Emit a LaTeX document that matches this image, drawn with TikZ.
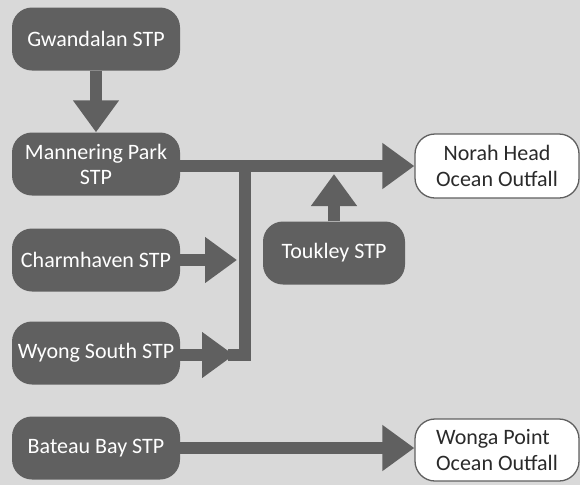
\documentclass[tikz,border=0pt]{standalone}
\usepackage{fontspec}
\setmainfont{Carlito}
\usetikzlibrary{arrows.meta}
\definecolor{bg}{HTML}{D9D9D9}
\definecolor{boxgray}{HTML}{606060}
\definecolor{textdark}{HTML}{2A2A2A}
\begin{document}
\begin{tikzpicture}[x=1pt,y=-1pt,
  stpbox/.style={fill=boxgray, rounded corners=20pt, minimum width=168pt, minimum height=63pt,
    text=white, font=\fontsize{22}{25}\selectfont, align=center, inner sep=0pt},
  outbox/.style={fill=white, draw=boxgray, line width=1.3pt, rounded corners=20pt,
    minimum width=164pt, minimum height=64pt, text=textdark,
    font=\fontsize{22}{26}\selectfont, inner sep=0pt},
  flow/.style={draw=boxgray, line width=12pt, -{Triangle[length=32pt,width=44pt]}},
  pipe/.style={draw=boxgray, line width=12pt, line join=miter}]
\fill[bg] (0,0) rectangle (580,485);
\useasboundingbox (0,0) rectangle (580,485);

\node[stpbox] (gw) at (96,39) {Gwandalan STP};
\node[stpbox] (mann) at (96,164) {Mannering Park\\STP};
\node[stpbox] (charm) at (96,260) {Charmhaven STP};
\node[stpbox] (wyong) at (96,353) {Wyong South STP};
\node[stpbox] (bat) at (96,448) {Bateau Bay STP};
\node[stpbox, minimum width=142pt] (touk) at (334,253) {Toukley STP};
\node[outbox, align=center] (norah) at (497,166) {Norah Head\\Ocean Outfall};
\node[outbox, align=left, minimum height=62pt] (wonga) at (497,450) {Wonga Point\\Ocean Outfall};

\coordinate (jtop) at (245,166);
\coordinate (jbot) at (228,355);
\coordinate (ctip) at (237,260);
\coordinate (wtip) at (234,355);
\coordinate (ttip) at (334,174);

\draw[pipe] (jbot) -| (jtop);
\draw[flow] (gw.south) -- (mann.north);
\draw[flow] (mann.east |- jtop) -- (norah.west);
\draw[flow] (charm.east) -- (ctip);
\draw[flow] (wyong.east |- wtip) -- (wtip);
\draw[flow] (touk.north) -- (ttip);
\draw[flow] (bat.east) -- (bat.east -| wonga.west);
\end{tikzpicture}
\end{document}
